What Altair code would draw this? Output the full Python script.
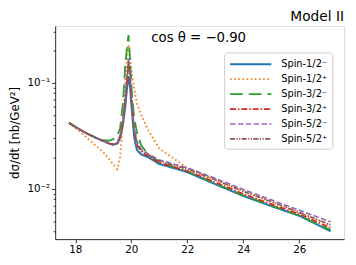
import altair as alt
import pandas as pd

# ---- data ----
series = ["Spin-1/2⁻", "Spin-1/2⁺", "Spin-3/2⁻", "Spin-3/2⁺", "Spin-5/2⁻", "Spin-5/2⁺"]
colors = ["#1f77b4", "#ff7f0e", "#2ca02c", "#d62728", "#9467bd", "#8c564b"]

x_vals = [17.77, 18.0, 18.25, 18.5, 18.75, 19.0, 19.2, 19.35, 19.5, 19.6, 19.7, 19.78,
          19.84, 19.9, 19.95, 20.02, 20.1, 20.2, 20.35, 20.6, 21.0, 21.5, 22.0, 23.0,
          24.0, 25.0, 26.0, 27.12]

spin_half_minus = [0.0420, 0.0385, 0.0352, 0.0325, 0.0302, 0.0283, 0.0268, 0.0261, 0.0268,
                   0.0300, 0.040, 0.058, 0.085, 0.116, 0.095, 0.055, 0.031, 0.0233, 0.0212,
                   0.0199, 0.0172, 0.0158, 0.0144, 0.0111, 0.0086, 0.0069, 0.0056, 0.0040]
spin_half_plus = [0.0420, 0.0375, 0.0333, 0.0290, 0.0254, 0.0222, 0.0193, 0.0170, 0.0154,
                  0.0200, 0.042, 0.095, 0.165, 0.230, 0.185, 0.120, 0.088, 0.064, 0.050,
                  0.036, 0.0240, 0.0195, 0.0158, 0.0122, 0.0096, 0.0076, 0.0060, 0.00455]
spin_3half_minus = [0.0420, 0.0385, 0.0352, 0.0326, 0.0304, 0.0288, 0.0285, 0.0295, 0.0320,
                    0.037, 0.065, 0.140, 0.210, 0.282, 0.170, 0.080, 0.048, 0.034, 0.026,
                    0.0212, 0.0180, 0.0162, 0.0146, 0.0113, 0.0087, 0.0070, 0.0056, 0.0041]
spin_3half_plus = [0.0420, 0.0385, 0.0352, 0.0325, 0.0302, 0.0283, 0.0269, 0.0262, 0.0272,
                   0.031, 0.043, 0.066, 0.100, 0.150, 0.115, 0.062, 0.035, 0.026, 0.0225,
                   0.0203, 0.0177, 0.0162, 0.0148, 0.0116, 0.0090, 0.0072, 0.0058, 0.0043]
spin_5half_minus = [0.0420, 0.0386, 0.0353, 0.0326, 0.0303, 0.0284, 0.0270, 0.0263, 0.0274,
                    0.032, 0.045, 0.070, 0.110, 0.170, 0.125, 0.068, 0.038, 0.028, 0.0238,
                    0.0214, 0.0188, 0.0172, 0.0158, 0.0126, 0.0099, 0.0079, 0.0063, 0.0049]
spin_5half_plus = [0.0420, 0.0386, 0.0353, 0.0326, 0.0303, 0.0284, 0.0270, 0.0263, 0.0273,
                   0.0315, 0.044, 0.068, 0.105, 0.160, 0.120, 0.065, 0.037, 0.027, 0.0232,
                   0.0209, 0.0184, 0.0168, 0.0154, 0.0122, 0.0095, 0.0076, 0.0060, 0.0046]

all_values = [spin_half_minus, spin_half_plus, spin_3half_minus,
              spin_3half_plus, spin_5half_minus, spin_5half_plus]

y_ticks = [0.004, 0.005, 0.006, 0.007, 0.008, 0.009, 0.01,
           0.02, 0.03, 0.04, 0.05, 0.06, 0.07, 0.08, 0.09, 0.1, 0.2, 0.3]
x_ticks = [18, 20, 22, 24, 26]
annotation = ["cos θ = −0.90"]

# ---- build table ----
rows = []
for i, (name, vals) in enumerate(zip(series, all_values)):
    for j, (xv, yv) in enumerate(zip(x_vals, vals)):
        rows.append({"series": name, "order": i, "idx": j, "W": xv, "dsdt": yv})
df = pd.DataFrame(rows)

dashes = [[1, 0], [1.6, 2.6], [13, 6], [6, 2, 1.5, 2], [5.5, 2.5], [5, 1.5, 1.2, 1.5, 1.2, 1.5]]
widths = [2.0, 1.6, 2.5, 1.6, 1.6, 1.6]

legend = alt.Legend(
    title=None, orient="none", legendX=172, legendY=27,
    symbolType="M-1,0H6", symbolSize=144, symbolStrokeWidth=1.6,
    labelFont="DejaVu Sans", labelFontSize=10, labelColor="black",
    rowPadding=3.2, padding=5, labelOffset=39,
    strokeColor="#cccccc", fillColor="white", cornerRadius=3,
)

lines = alt.Chart(df).mark_line(clip=True).encode(
    x=alt.X("W:Q", scale=alt.Scale(domain=[17.28, 27.6], nice=False, zero=False),
            axis=alt.Axis(title=None, values=x_ticks, format="d", tickSize=3.7,
                          labelFontSize=10.5, labelPadding=2, labelFont="DejaVu Sans",
                          labelColor="black", tickColor="black", domainColor="black",
                          domainWidth=0.8, tickWidth=0.8, grid=False)),
    y=alt.Y("dsdt:Q", scale=alt.Scale(type="log", domain=[0.003373, 0.3443], nice=False),
            axis=alt.Axis(title="dσ/dt [nb/GeV²]", values=y_ticks,
                          labelExpr="datum.value == 0.01 ? '10⁻²' : (datum.value == 0.1 ? '10⁻¹' : '')",
                          tickSize={"condition": {"test": "datum.value == 0.01 || datum.value == 0.1", "value": 3.7}, "value": 2.1},
                          labelFontSize=10.5, labelPadding=2, labelFont="DejaVu Sans",
                          labelColor="black", tickColor="black", domainColor="black",
                          domainWidth=0.8, tickWidth=0.8, grid=False,
                          titleFont="DejaVu Sans", titleFontSize=12, titleFontWeight="normal",
                          titleColor="black", titlePadding=5)),
    color=alt.Color("series:N", scale=alt.Scale(domain=series, range=colors), legend=legend),
    strokeDash=alt.StrokeDash("series:N", scale=alt.Scale(domain=series, range=dashes), legend=legend),
    strokeWidth=alt.StrokeWidth("series:N", scale=alt.Scale(domain=series, range=widths), legend=legend),
    order=alt.Order("idx:Q"),
    detail="series:N",
)

text = alt.Chart(pd.DataFrame({"label": annotation})).mark_text(
    font="DejaVu Sans", fontSize=13.5, color="black", align="center", baseline="middle"
).encode(x=alt.value(146), y=alt.value(12), text="label:N")

chart = alt.layer(lines, text).properties(
    width=294, height=217,
    title=alt.TitleParams("Model II", anchor="end", fontSize=14, font="DejaVu Sans",
                          fontWeight="normal", color="black", offset=2),
    autosize=alt.AutoSizeParams(type="none"),
    padding={"left": 48, "top": 16, "right": 4, "bottom": 17},
).configure_view(stroke="black", strokeWidth=0.8).configure(background="white")

chart.save("out.html", embed_options={"renderer": "svg", "actions": False})
